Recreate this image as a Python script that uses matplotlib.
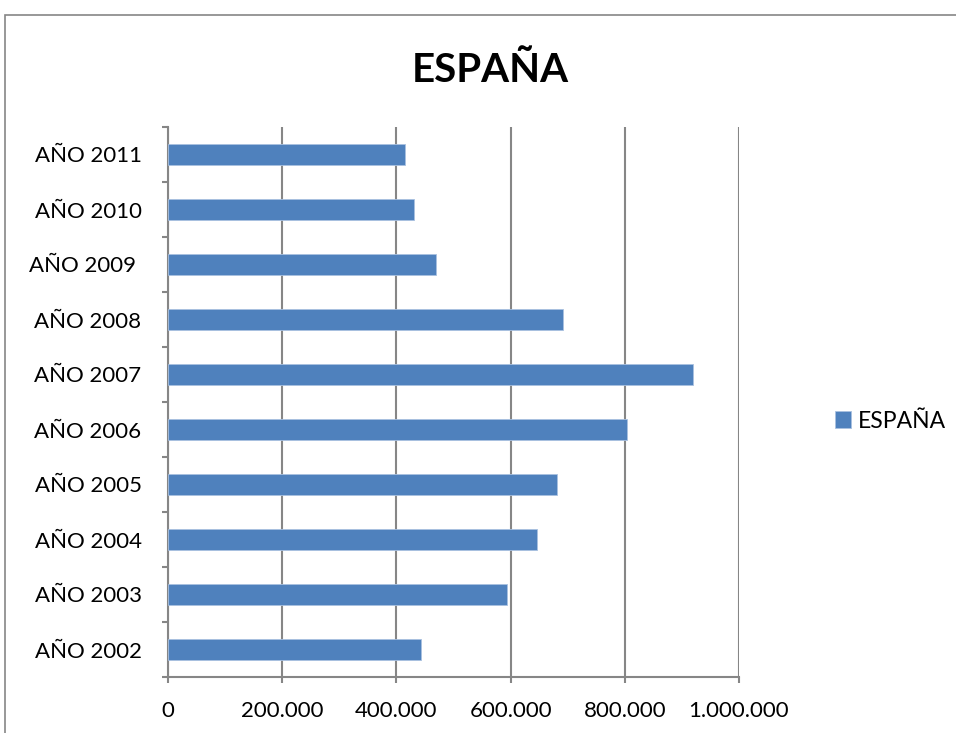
import matplotlib
matplotlib.use('Agg')
import matplotlib.pyplot as plt
from matplotlib.patches import Rectangle
from matplotlib.ticker import FuncFormatter

# Datos
years = ['AÑO 2002', 'AÑO 2003', 'AÑO 2004', 'AÑO 2005', 'AÑO 2006',
         'AÑO 2007', 'AÑO 2008', 'AÑO 2009 ', 'AÑO 2010', 'AÑO 2011']
espana = [443000, 593000, 646000, 682000, 803000,
          920000, 692000, 469500, 430000, 415000]
x_ticks = [0, 200000, 400000, 600000, 800000, 1000000]

bar_color = '#4F81BD'
grid_color = '#868686'

plt.rcParams['font.family'] = ['Lato', 'DejaVu Sans']

fig = plt.figure(figsize=(9.56, 7.33), dpi=100)
ax = fig.add_axes([168 / 956, 56 / 733, 571 / 956, 550 / 733])

pos = list(range(len(years)))
ax.barh(pos, espana, height=0.38, color=bar_color, edgecolor='#a9c1e0',
        linewidth=0.6, label='ESPAÑA', zorder=3)

ax.set_xlim(0, 1000000)
ax.set_ylim(-0.5, len(years) - 0.5)
ax.set_xticks(x_ticks)
ax.xaxis.set_major_formatter(FuncFormatter(lambda v, p: f'{int(v):,}'.replace(',', '.')))
ax.set_yticks(pos)
ax.set_yticklabels(years)
ax.set_yticks([p - 0.5 for p in range(len(years) + 1)], minor=True)

ax.grid(axis='x', color=grid_color, linewidth=1.5, zorder=0)
for s in ['top', 'right']:
    ax.spines[s].set_visible(False)
for s in ['left', 'bottom']:
    ax.spines[s].set_color(grid_color)
    ax.spines[s].set_linewidth(1.5)

ax.tick_params(axis='y', which='major', length=0, labelsize=16, pad=19)
ax.tick_params(axis='y', which='minor', length=4.5, width=1.5, color=grid_color)
ax.tick_params(axis='x', length=4.5, width=1.5, color=grid_color, labelsize=16, pad=13)

fig.text(490 / 956, 1 - 70 / 733, 'ESPAÑA', ha='center', va='center',
         fontsize=29, fontweight='bold')

fig.legend(loc='center left', bbox_to_anchor=(814 / 956, 1 - 421 / 733),
           frameon=False, fontsize=16.5, handlelength=0.7, handleheight=0.7,
           handletextpad=0.3)

# Borde del área del gráfico
border = Rectangle((5 / 956, -0.1), 1.2, 1.1 - 15 / 733, transform=fig.transFigure,
                   fill=False, edgecolor='#868686', linewidth=1.2, clip_on=False)
fig.patches.append(border)

fig.savefig('out.png', dpi=100)
